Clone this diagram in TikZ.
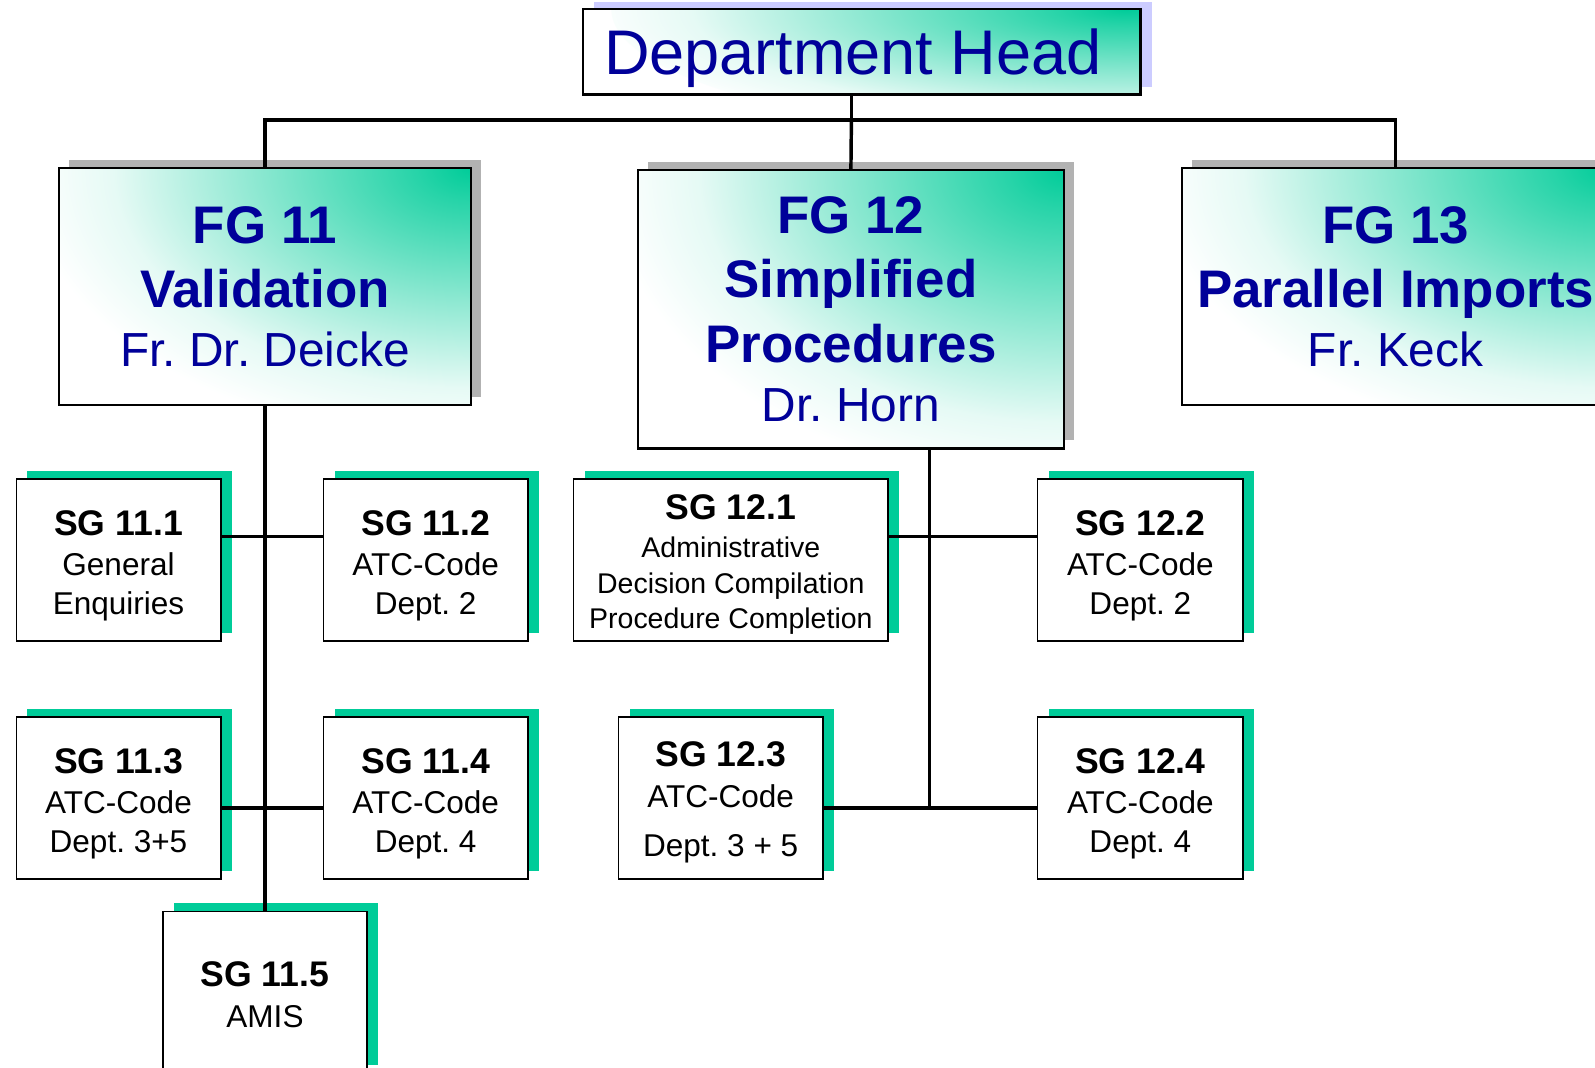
\documentclass[tikz,border=0pt]{standalone}
\usepackage{fontspec}
\setmainfont{Liberation Sans}
\frenchspacing
\usetikzlibrary{shadows}
\definecolor{headblue}{RGB}{0,0,153}
\definecolor{fgteal}{RGB}{0,204,153}
\definecolor{sgteal}{RGB}{0,204,153}
\definecolor{fgshadow}{RGB}{178,178,178}
\definecolor{headshadow}{RGB}{204,204,255}
\colorlet{glowA}{fgteal!85!white}
\colorlet{glowB}{fgteal!45!white}
\colorlet{glowC}{fgteal!10!white}
\pgfdeclareradialshading{fgglow}{\pgfpoint{0bp}{0bp}}{color(0bp)=(fgteal); color(3bp)=(glowA); color(12bp)=(glowB); color(20bp)=(glowC); color(25bp)=(white); color(100bp)=(white)}
\begin{document}
\begin{tikzpicture}[x=1pt, y=-1pt,
    glow/.style 2 args={path picture={\shade[shading=fgglow] (path picture bounding box.north east) ellipse [x radius=#1, y radius=#2];}},
    headbox/.style={rectangle, draw, line width=2.5pt, fill=white, text=headblue, inner sep=0pt, outer sep=0pt,
      font=\fontsize{62}{70}\selectfont, text depth=0pt,
      drop shadow={shadow xshift=11pt, shadow yshift=7pt, fill=headshadow, opacity=1}},
    fgbox/.style={rectangle, draw, line width=2.5pt, fill=white, text=headblue, align=center, inner sep=0pt, outer sep=0pt,
      font=\fontsize{52}{63}\selectfont,
      drop shadow={shadow xshift=10pt, shadow yshift=8pt, fill=fgshadow, opacity=1}},
    sgbox/.style={rectangle, draw, line width=1.5pt, fill=white, align=center, inner sep=0pt, outer sep=0pt,
      minimum width=201pt, minimum height=159pt, font=\fontsize{31}{38}\selectfont,
      text depth=0pt, text height=107pt,
      drop shadow={shadow xshift=11pt, shadow yshift=8pt, fill=sgteal, opacity=1}},
    link/.style={line width=3.4pt}]
  \useasboundingbox (0,0) rectangle (1568,1049);
  \clip (0,0) rectangle (1568,1049);

  % Nodes
  \node (dh) at (847,51) [headbox, glow={520pt}{130pt}, minimum width=548pt, minimum height=84pt] {Department Head\hspace*{17pt}};

  \node (fg11) at (260.5,281.5) [fgbox, glow={440pt}{270pt}, minimum width=405pt, minimum height=233pt]
    {{\bfseries FG 11}\\{\bfseries Validation}\\[-5pt]{\fontsize{47}{57}\selectfont Fr. Dr. Deicke}};
  \node (fg12) at (836.5,304) [fgbox, glow={450pt}{310pt}, minimum width=419pt, minimum height=274pt]
    {{\bfseries FG 12}\\{\bfseries Simplified}\\{\bfseries Procedures}\\[-5pt]{\fontsize{47}{57}\selectfont Dr. Horn}};
  \node (fg13) at (1372,281.5) [fgbox, glow={450pt}{270pt}, minimum width=420pt, minimum height=233pt]
    {{\bfseries FG 13}\\{\bfseries Parallel Imports}\\[-5pt]{\fontsize{47}{57}\selectfont Fr. Keck}};

  \node (sg111) at (116.5,550.5) [sgbox] {{\bfseries\fontsize{35}{39}\selectfont SG 11.1}\\[2pt]General\\Enquiries};
  \node (sg112) at (418.5,550.5) [sgbox] {{\bfseries\fontsize{35}{39}\selectfont SG 11.2}\\[2pt]ATC-Code\\Dept. 2};
  \node (sg113) at (116.5,784.5) [sgbox] {{\bfseries\fontsize{35}{39}\selectfont SG 11.3}\\[2pt]ATC-Code\\Dept. 3+5};
  \node (sg114) at (418.5,784.5) [sgbox] {{\bfseries\fontsize{35}{39}\selectfont SG 11.4}\\[2pt]ATC-Code\\Dept. 4};
  \node (sg115) at (260.5,975.5) [sgbox, text height=69pt] {{\bfseries\fontsize{35}{39}\selectfont SG 11.5}\\[2pt]AMIS};

  \node (sg121) at (718.5,550.5) [sgbox, minimum width=309pt, text height=135pt, font=\fontsize{28}{35}\selectfont]
    {{\bfseries\fontsize{35}{39}\selectfont SG 12.1}\\[2pt]Administrative\\Decision Compilation\\Procedure Completion};
  \node (sg122) at (1121,550.5) [sgbox, minimum width=202pt] {{\bfseries\fontsize{35}{39}\selectfont SG 12.2}\\[2pt]ATC-Code\\Dept. 2};
  \node (sg123) at (708.5,784.5) [sgbox, text height=115pt] {{\bfseries\fontsize{35}{39}\selectfont SG 12.3}\\[2pt]ATC-Code\\[10pt]Dept. 3 + 5};
  \node (sg124) at (1121,784.5) [sgbox, minimum width=202pt] {{\bfseries\fontsize{35}{39}\selectfont SG 12.4}\\[2pt]ATC-Code\\Dept. 4};

  \coordinate (bus) at (837,118);
  \coordinate (j12) at (914,795);

  % Edges
  \draw [link] (dh.south -| bus) -- (bus);
  \draw [link] (fg11.north) |- (bus) -| (fg13.north);
  \draw [link] (bus) -- (fg12.north);

  \draw [link] (fg11.south) -- (sg115.north);
  \draw [link] ([yshift=23pt]sg111.east) -- ([yshift=23pt]sg112.west);
  \draw [link] ([yshift=-10pt]sg113.east) -- ([yshift=-10pt]sg114.west);

  \draw [link] (fg12.south -| j12) -- (j12);
  \draw [link] ([yshift=23pt]sg121.east) -- ([yshift=23pt]sg122.west);
  \draw [link] ([yshift=-10pt]sg123.east) -- ([yshift=-10pt]sg124.west);
\end{tikzpicture}
\end{document}
